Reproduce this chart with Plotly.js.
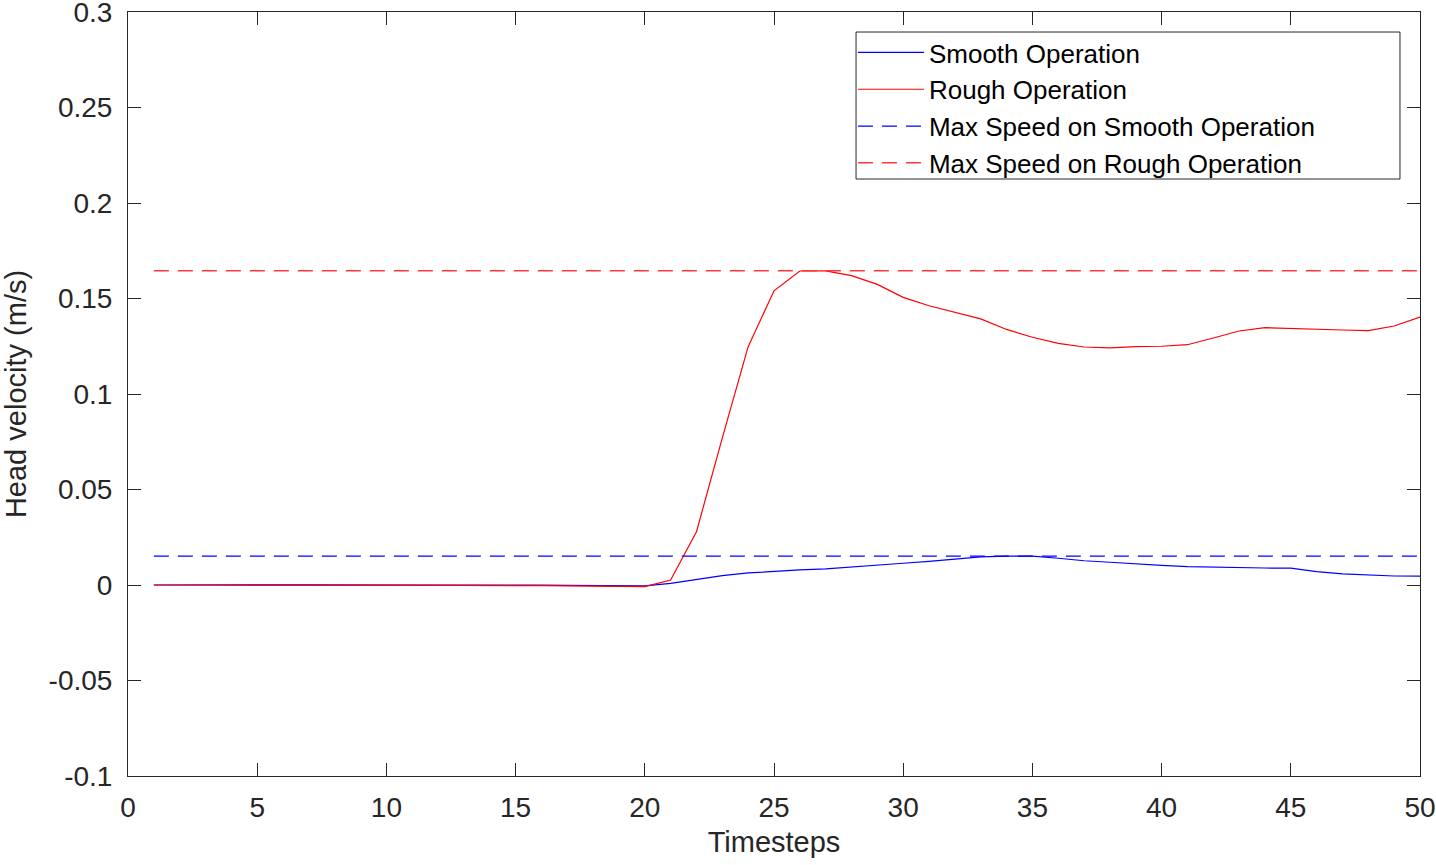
<!DOCTYPE html>
<html>
<head>
<meta charset="utf-8">
<script src="https://cdn.plot.ly/plotly-3.0.1.min.js"></script>
<style>html,body{margin:0;padding:0;background:#fff;}#chart{width:1436px;height:865px;}</style>
</head>
<body>
<div id="chart"></div>
<script>
var timesteps = [1,2,3,4,5,6,7,8,9,10,11,12,13,14,15,16,17,18,19,20,21,22,23,24,25,26,27,28,29,30,31,32,33,34,35,36,37,38,39,40,41,42,43,44,45,46,47,48,49,50];
var smoothVel = [0,0,0.0001,0.0001,0.0001,0.0001,0.0002,0.0002,0.0002,0.0002,0.0001,0.0001,0,0,-0.0001,-0.0001,-0.0002,-0.0003,-0.0004,-0.0005,0.0009,0.003,0.0049,0.0063,0.0072,0.0079,0.0084,0.0093,0.0103,0.0114,0.0124,0.0136,0.0147,0.0151,0.0151,0.014,0.0127,0.0119,0.011,0.0103,0.0096,0.0093,0.0089,0.0089,0.0088,0.007,0.0058,0.0051,0.0047,0.0046];
var roughVel = [0,0.0001,0.0001,0.0001,0.0001,0.0002,0.0002,0.0001,0.0001,0.0001,0,0,-0.0001,-0.0002,-0.0003,-0.0003,-0.0004,-0.0005,-0.0006,-0.0008,0.0026,0.0279,0.077,0.1248,0.154,0.1644,0.1645,0.162,0.1574,0.1506,0.1462,0.1428,0.1393,0.1338,0.1297,0.1265,0.1246,0.1241,0.1248,0.125,0.1258,0.1293,0.133,0.1347,0.1342,0.1337,0.1335,0.1332,0.1356,0.1403];
var maxSmooth = 0.0151;
var maxRough = 0.1645;
var xTicks = [0,5,10,15,20,25,30,35,40,45,50];
var yTicks = [-0.1,-0.05,0,0.05,0.1,0.15,0.2,0.25,0.3];
var yTickText = ['-0.1','-0.05','0','0.05','0.1','0.15','0.2','0.25','0.3'];
var seriesNames = ['Smooth Operation','Rough Operation','Max Speed on Smooth Operation','Max Speed on Rough Operation'];

var maxSmoothLine = timesteps.map(function(){return maxSmooth;});
var maxRoughLine = timesteps.map(function(){return maxRough;});

var traces = [
  {x: timesteps, y: smoothVel, type:'scatter', mode:'lines', name: seriesNames[0], line:{color:'#0000ff', width:1.2}},
  {x: timesteps, y: roughVel, type:'scatter', mode:'lines', name: seriesNames[1], line:{color:'#ff0000', width:1.2}},
  {x: timesteps, y: maxSmoothLine, type:'scatter', mode:'lines', name: seriesNames[2], line:{color:'#0000ff', width:1.2, dash:'15px,9px'}},
  {x: timesteps, y: maxRoughLine, type:'scatter', mode:'lines', name: seriesNames[3], line:{color:'#ff3838', width:1.5, dash:'15px,9px'}}
];

var fam = '"Liberation Sans", Arial, Helvetica, sans-serif';
var tickFont = {family:fam, size:28, color:'#262626'};
var titleFont = {family:fam, size:29, color:'#262626'};
var layout = {
  width:1436, height:865,
  margin:{l:128, r:16, t:12, b:89, pad:0},
  paper_bgcolor:'#ffffff', plot_bgcolor:'#ffffff',
  showlegend:true,
  font: tickFont,
  xaxis:{
    range:[0,50], tickvals:xTicks, ticktext:xTicks.map(String),
    ticks:'inside', ticklen:13, tickcolor:'#262626', tickwidth:1,
    showline:true, linecolor:'#262626', linewidth:1, mirror:'ticks',
    showgrid:false, zeroline:false, tickfont:tickFont, ticklabelstandoff:6,
    ticklabeloverflow:'allow',
    title:{text:'Timesteps', font:titleFont, standoff:10}
  },
  yaxis:{
    range:[-0.1,0.3], tickvals:yTicks, ticktext:yTickText,
    ticks:'inside', ticklen:13, tickcolor:'#262626', tickwidth:1,
    showline:true, linecolor:'#262626', linewidth:1, mirror:'ticks',
    showgrid:false, zeroline:false, tickfont:tickFont, ticklabelstandoff:9,
    ticklabeloverflow:'allow',
    title:{text:'Head velocity (m/s)', font:titleFont, standoff:19}
  },
  shapes:[
    {type:'rect', xref:'paper', yref:'paper', x0:0.5635, x1:0.9845, y0:0.7814, y1:0.9738,
     fillcolor:'#ffffff', line:{color:'#262626', width:1}, layer:'above'}
  ],
  legend:{
    x:0.5611, y:0.9777, xanchor:'left', yanchor:'top',
    bgcolor:'rgba(0,0,0,0)', borderwidth:0,
    font:{family:fam, size:26, color:'#000000'},
    itemwidth:66, tracegroupgap:0
  }
};
Plotly.newPlot('chart', traces, layout, {displayModeBar:false, staticPlot:true});
</script>
</body>
</html>
